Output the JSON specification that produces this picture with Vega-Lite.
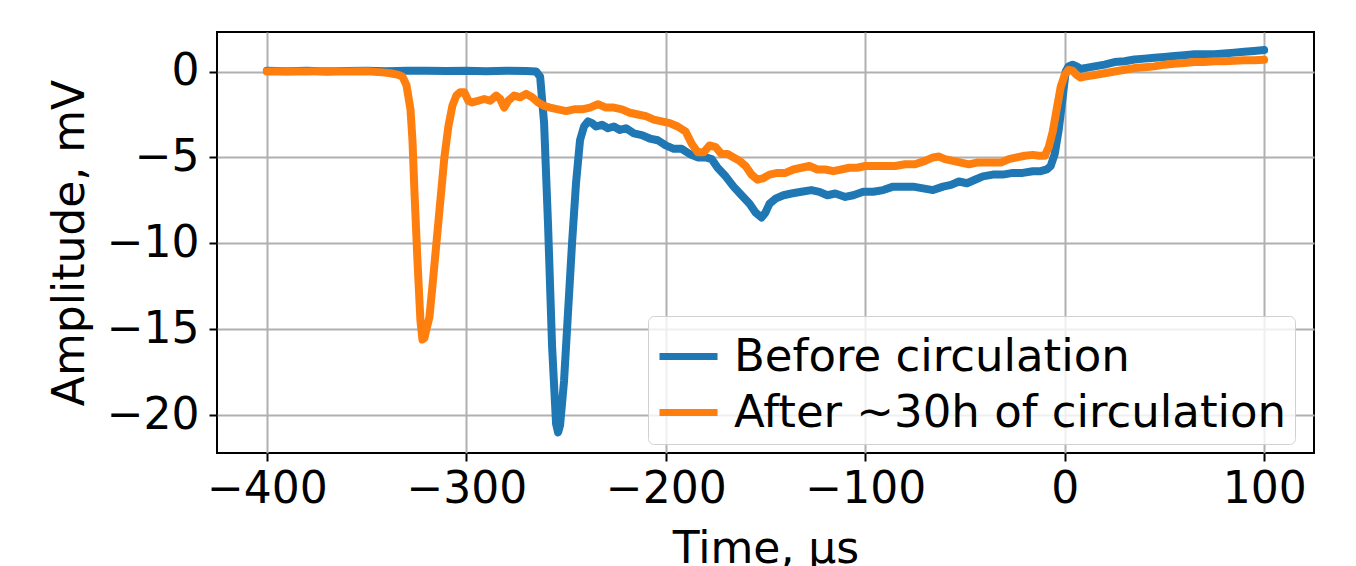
{
  "$schema": "https://vega.github.io/schema/vega-lite/v6.json",
  "autosize": {"type": "none"},
  "width": 1097,
  "height": 421,
  "padding": {"left": 217, "top": 32, "right": 42, "bottom": 113},
  "background": "white",
  "data": {"values": [
    {"s":"Before circulation","t":-400,"v":0.05},{"s":"Before circulation","t":-390,"v":0.02},{"s":"Before circulation","t":-380,"v":0.05},{"s":"Before circulation","t":-370,"v":0.0},{"s":"Before circulation","t":-360,"v":0.03},{"s":"Before circulation","t":-350,"v":0.05},{"s":"Before circulation","t":-340,"v":0.02},{"s":"Before circulation","t":-330,"v":0.04},{"s":"Before circulation","t":-320,"v":0.05},{"s":"Before circulation","t":-310,"v":0.03},{"s":"Before circulation","t":-300,"v":0.05},{"s":"Before circulation","t":-290,"v":0.02},{"s":"Before circulation","t":-280,"v":0.04},{"s":"Before circulation","t":-270,"v":0.03},{"s":"Before circulation","t":-265,"v":0.0},
    {"s":"Before circulation","t":-263,"v":-0.3},{"s":"Before circulation","t":-261,"v":-3},{"s":"Before circulation","t":-259,"v":-9},{"s":"Before circulation","t":-257,"v":-16},{"s":"Before circulation","t":-255,"v":-20.5},{"s":"Before circulation","t":-254,"v":-21.0},{"s":"Before circulation","t":-253,"v":-20.6},{"s":"Before circulation","t":-251,"v":-18},{"s":"Before circulation","t":-249,"v":-14},{"s":"Before circulation","t":-247,"v":-10},{"s":"Before circulation","t":-245,"v":-6.5},{"s":"Before circulation","t":-243,"v":-4},{"s":"Before circulation","t":-241,"v":-3.2},{"s":"Before circulation","t":-239,"v":-2.9},{"s":"Before circulation","t":-237,"v":-3.0},{"s":"Before circulation","t":-235,"v":-3.2},{"s":"Before circulation","t":-232,"v":-3.1},{"s":"Before circulation","t":-229,"v":-3.3},{"s":"Before circulation","t":-226,"v":-3.2},{"s":"Before circulation","t":-223,"v":-3.4},{"s":"Before circulation","t":-220,"v":-3.3},{"s":"Before circulation","t":-216,"v":-3.6},{"s":"Before circulation","t":-212,"v":-3.7},{"s":"Before circulation","t":-208,"v":-3.9},{"s":"Before circulation","t":-204,"v":-4.0},{"s":"Before circulation","t":-200,"v":-4.3},{"s":"Before circulation","t":-196,"v":-4.5},{"s":"Before circulation","t":-192,"v":-4.5},{"s":"Before circulation","t":-188,"v":-4.8},{"s":"Before circulation","t":-184,"v":-5.0},{"s":"Before circulation","t":-180,"v":-5.0},{"s":"Before circulation","t":-177,"v":-5.1},{"s":"Before circulation","t":-174,"v":-5.6},{"s":"Before circulation","t":-170,"v":-6.1},{"s":"Before circulation","t":-166,"v":-6.7},{"s":"Before circulation","t":-162,"v":-7.2},{"s":"Before circulation","t":-158,"v":-7.7},{"s":"Before circulation","t":-155,"v":-8.2},{"s":"Before circulation","t":-152,"v":-8.5},{"s":"Before circulation","t":-150,"v":-8.2},{"s":"Before circulation","t":-148,"v":-7.7},{"s":"Before circulation","t":-145,"v":-7.4},{"s":"Before circulation","t":-141,"v":-7.2},{"s":"Before circulation","t":-137,"v":-7.1},{"s":"Before circulation","t":-132,"v":-7.0},{"s":"Before circulation","t":-127,"v":-6.9},{"s":"Before circulation","t":-123,"v":-7.0},{"s":"Before circulation","t":-119,"v":-7.2},{"s":"Before circulation","t":-115,"v":-7.1},{"s":"Before circulation","t":-110,"v":-7.3},{"s":"Before circulation","t":-106,"v":-7.2},{"s":"Before circulation","t":-101,"v":-7.0},{"s":"Before circulation","t":-96,"v":-7.0},{"s":"Before circulation","t":-91,"v":-6.9},{"s":"Before circulation","t":-86,"v":-6.7},{"s":"Before circulation","t":-81,"v":-6.7},{"s":"Before circulation","t":-76,"v":-6.7},{"s":"Before circulation","t":-71,"v":-6.8},{"s":"Before circulation","t":-66,"v":-6.9},{"s":"Before circulation","t":-61,"v":-6.7},{"s":"Before circulation","t":-57,"v":-6.6},{"s":"Before circulation","t":-53,"v":-6.4},{"s":"Before circulation","t":-49,"v":-6.5},{"s":"Before circulation","t":-45,"v":-6.3},{"s":"Before circulation","t":-41,"v":-6.1},{"s":"Before circulation","t":-36,"v":-6.0},{"s":"Before circulation","t":-31,"v":-6.0},{"s":"Before circulation","t":-26,"v":-5.9},{"s":"Before circulation","t":-21,"v":-5.9},{"s":"Before circulation","t":-16,"v":-5.8},{"s":"Before circulation","t":-12,"v":-5.8},{"s":"Before circulation","t":-9,"v":-5.7},{"s":"Before circulation","t":-7,"v":-5.5},{"s":"Before circulation","t":-5,"v":-4.8},{"s":"Before circulation","t":-3,"v":-3.4},{"s":"Before circulation","t":-1,"v":-1.5},{"s":"Before circulation","t":0.5,"v":0.0},{"s":"Before circulation","t":2,"v":0.3},{"s":"Before circulation","t":4,"v":0.4},{"s":"Before circulation","t":6,"v":0.3},{"s":"Before circulation","t":8,"v":0.15},{"s":"Before circulation","t":10,"v":0.2},{"s":"Before circulation","t":15,"v":0.3},{"s":"Before circulation","t":20,"v":0.4},{"s":"Before circulation","t":25,"v":0.55},{"s":"Before circulation","t":30,"v":0.6},{"s":"Before circulation","t":35,"v":0.7},{"s":"Before circulation","t":40,"v":0.75},{"s":"Before circulation","t":45,"v":0.8},{"s":"Before circulation","t":50,"v":0.85},{"s":"Before circulation","t":55,"v":0.9},{"s":"Before circulation","t":60,"v":0.95},{"s":"Before circulation","t":65,"v":1.0},{"s":"Before circulation","t":70,"v":1.0},{"s":"Before circulation","t":75,"v":1.0},{"s":"Before circulation","t":80,"v":1.05},{"s":"Before circulation","t":85,"v":1.1},{"s":"Before circulation","t":90,"v":1.15},{"s":"Before circulation","t":95,"v":1.2},{"s":"Before circulation","t":100,"v":1.25},
    {"s":"After ~30h of circulation","t":-400,"v":0.0},{"s":"After ~30h of circulation","t":-390,"v":0.02},{"s":"After ~30h of circulation","t":-380,"v":0.0},{"s":"After ~30h of circulation","t":-370,"v":0.03},{"s":"After ~30h of circulation","t":-360,"v":0.0},{"s":"After ~30h of circulation","t":-350,"v":0.02},{"s":"After ~30h of circulation","t":-342,"v":-0.05},{"s":"After ~30h of circulation","t":-338,"v":-0.1},{"s":"After ~30h of circulation","t":-334,"v":-0.2},{"s":"After ~30h of circulation","t":-332,"v":-0.3},{"s":"After ~30h of circulation","t":-330,"v":-0.8},{"s":"After ~30h of circulation","t":-328,"v":-2.2},{"s":"After ~30h of circulation","t":-327,"v":-4},{"s":"After ~30h of circulation","t":-326,"v":-7},{"s":"After ~30h of circulation","t":-324.5,"v":-11},{"s":"After ~30h of circulation","t":-323,"v":-14.5},{"s":"After ~30h of circulation","t":-322,"v":-15.6},{"s":"After ~30h of circulation","t":-321,"v":-15.5},{"s":"After ~30h of circulation","t":-320,"v":-15},{"s":"After ~30h of circulation","t":-318.5,"v":-14.3},{"s":"After ~30h of circulation","t":-317,"v":-12.5},{"s":"After ~30h of circulation","t":-315,"v":-10},{"s":"After ~30h of circulation","t":-313,"v":-7.5},{"s":"After ~30h of circulation","t":-311,"v":-5},{"s":"After ~30h of circulation","t":-309,"v":-3.2},{"s":"After ~30h of circulation","t":-307,"v":-2},{"s":"After ~30h of circulation","t":-305,"v":-1.4},{"s":"After ~30h of circulation","t":-303,"v":-1.2},{"s":"After ~30h of circulation","t":-301,"v":-1.2},{"s":"After ~30h of circulation","t":-299,"v":-1.7},{"s":"After ~30h of circulation","t":-297,"v":-1.8},{"s":"After ~30h of circulation","t":-294,"v":-1.7},{"s":"After ~30h of circulation","t":-291,"v":-1.6},{"s":"After ~30h of circulation","t":-288,"v":-1.7},{"s":"After ~30h of circulation","t":-285,"v":-1.4},{"s":"After ~30h of circulation","t":-283,"v":-1.6},{"s":"After ~30h of circulation","t":-281,"v":-2.1},{"s":"After ~30h of circulation","t":-279,"v":-1.7},{"s":"After ~30h of circulation","t":-276,"v":-1.4},{"s":"After ~30h of circulation","t":-273,"v":-1.5},{"s":"After ~30h of circulation","t":-270,"v":-1.3},{"s":"After ~30h of circulation","t":-267,"v":-1.5},{"s":"After ~30h of circulation","t":-264,"v":-1.8},{"s":"After ~30h of circulation","t":-261,"v":-2.0},{"s":"After ~30h of circulation","t":-258,"v":-2.1},{"s":"After ~30h of circulation","t":-254,"v":-2.2},{"s":"After ~30h of circulation","t":-250,"v":-2.3},{"s":"After ~30h of circulation","t":-246,"v":-2.2},{"s":"After ~30h of circulation","t":-242,"v":-2.2},{"s":"After ~30h of circulation","t":-238,"v":-2.1},{"s":"After ~30h of circulation","t":-234,"v":-1.9},{"s":"After ~30h of circulation","t":-230,"v":-2.1},{"s":"After ~30h of circulation","t":-226,"v":-2.1},{"s":"After ~30h of circulation","t":-222,"v":-2.2},{"s":"After ~30h of circulation","t":-218,"v":-2.4},{"s":"After ~30h of circulation","t":-214,"v":-2.5},{"s":"After ~30h of circulation","t":-210,"v":-2.6},{"s":"After ~30h of circulation","t":-206,"v":-2.8},{"s":"After ~30h of circulation","t":-202,"v":-2.9},{"s":"After ~30h of circulation","t":-198,"v":-3.0},{"s":"After ~30h of circulation","t":-194,"v":-3.2},{"s":"After ~30h of circulation","t":-190,"v":-3.5},{"s":"After ~30h of circulation","t":-187,"v":-4.2},{"s":"After ~30h of circulation","t":-184,"v":-4.7},{"s":"After ~30h of circulation","t":-181,"v":-4.7},{"s":"After ~30h of circulation","t":-178,"v":-4.3},{"s":"After ~30h of circulation","t":-175,"v":-4.4},{"s":"After ~30h of circulation","t":-172,"v":-4.8},{"s":"After ~30h of circulation","t":-169,"v":-4.8},{"s":"After ~30h of circulation","t":-166,"v":-5.0},{"s":"After ~30h of circulation","t":-163,"v":-5.2},{"s":"After ~30h of circulation","t":-160,"v":-5.5},{"s":"After ~30h of circulation","t":-157,"v":-6.0},{"s":"After ~30h of circulation","t":-154,"v":-6.3},{"s":"After ~30h of circulation","t":-151,"v":-6.2},{"s":"After ~30h of circulation","t":-148,"v":-6.0},{"s":"After ~30h of circulation","t":-144,"v":-5.9},{"s":"After ~30h of circulation","t":-140,"v":-5.9},{"s":"After ~30h of circulation","t":-136,"v":-5.7},{"s":"After ~30h of circulation","t":-132,"v":-5.6},{"s":"After ~30h of circulation","t":-128,"v":-5.5},{"s":"After ~30h of circulation","t":-124,"v":-5.7},{"s":"After ~30h of circulation","t":-120,"v":-5.7},{"s":"After ~30h of circulation","t":-116,"v":-5.8},{"s":"After ~30h of circulation","t":-112,"v":-5.7},{"s":"After ~30h of circulation","t":-108,"v":-5.6},{"s":"After ~30h of circulation","t":-104,"v":-5.6},{"s":"After ~30h of circulation","t":-100,"v":-5.5},{"s":"After ~30h of circulation","t":-95,"v":-5.5},{"s":"After ~30h of circulation","t":-90,"v":-5.5},{"s":"After ~30h of circulation","t":-85,"v":-5.5},{"s":"After ~30h of circulation","t":-80,"v":-5.4},{"s":"After ~30h of circulation","t":-75,"v":-5.4},{"s":"After ~30h of circulation","t":-70,"v":-5.2},{"s":"After ~30h of circulation","t":-66,"v":-5.0},{"s":"After ~30h of circulation","t":-63,"v":-4.95},{"s":"After ~30h of circulation","t":-60,"v":-5.1},{"s":"After ~30h of circulation","t":-56,"v":-5.2},{"s":"After ~30h of circulation","t":-52,"v":-5.3},{"s":"After ~30h of circulation","t":-48,"v":-5.4},{"s":"After ~30h of circulation","t":-44,"v":-5.3},{"s":"After ~30h of circulation","t":-40,"v":-5.3},{"s":"After ~30h of circulation","t":-36,"v":-5.3},{"s":"After ~30h of circulation","t":-32,"v":-5.3},{"s":"After ~30h of circulation","t":-28,"v":-5.1},{"s":"After ~30h of circulation","t":-24,"v":-5.0},{"s":"After ~30h of circulation","t":-20,"v":-4.9},{"s":"After ~30h of circulation","t":-16,"v":-4.85},{"s":"After ~30h of circulation","t":-13,"v":-4.9},{"s":"After ~30h of circulation","t":-10,"v":-4.9},{"s":"After ~30h of circulation","t":-8,"v":-4.4},{"s":"After ~30h of circulation","t":-6,"v":-3.5},{"s":"After ~30h of circulation","t":-4,"v":-2.2},{"s":"After ~30h of circulation","t":-2,"v":-0.9},{"s":"After ~30h of circulation","t":0,"v":-0.2},{"s":"After ~30h of circulation","t":2,"v":0.1},{"s":"After ~30h of circulation","t":4,"v":0.05},{"s":"After ~30h of circulation","t":6,"v":-0.2},{"s":"After ~30h of circulation","t":8,"v":-0.35},{"s":"After ~30h of circulation","t":10,"v":-0.3},{"s":"After ~30h of circulation","t":15,"v":-0.2},{"s":"After ~30h of circulation","t":20,"v":-0.1},{"s":"After ~30h of circulation","t":25,"v":0.0},{"s":"After ~30h of circulation","t":30,"v":0.1},{"s":"After ~30h of circulation","t":35,"v":0.2},{"s":"After ~30h of circulation","t":40,"v":0.25},{"s":"After ~30h of circulation","t":45,"v":0.3},{"s":"After ~30h of circulation","t":50,"v":0.4},{"s":"After ~30h of circulation","t":55,"v":0.45},{"s":"After ~30h of circulation","t":60,"v":0.5},{"s":"After ~30h of circulation","t":65,"v":0.55},{"s":"After ~30h of circulation","t":70,"v":0.55},{"s":"After ~30h of circulation","t":75,"v":0.6},{"s":"After ~30h of circulation","t":80,"v":0.6},{"s":"After ~30h of circulation","t":85,"v":0.62},{"s":"After ~30h of circulation","t":90,"v":0.65},{"s":"After ~30h of circulation","t":95,"v":0.65},{"s":"After ~30h of circulation","t":100,"v":0.68}
  ]},
  "mark": {"type": "line", "strokeWidth": 8, "strokeCap": "round", "strokeJoin": "round"},
  "encoding": {
    "x": {
      "field": "t", "type": "quantitative",
      "scale": {"domain": [-425, 125], "nice": false, "zero": false},
      "axis": {"title": "Time, µs", "values": [-400, -300, -200, -100, 0, 100], "titlePadding": 16, "labelPadding": 6}
    },
    "y": {
      "field": "v", "type": "quantitative",
      "scale": {"domain": [-22.2, 2.3], "nice": false, "zero": false},
      "axis": {"title": "Amplitude, mV", "values": [-20, -15, -10, -5, 0], "titlePadding": 14, "labelPadding": 10}
    },
    "color": {
      "field": "s", "type": "nominal",
      "scale": {"domain": ["Before circulation", "After ~30h of circulation"], "range": ["#1f77b4", "#ff7f0e"]},
      "legend": {
        "title": null, "orient": "none", "legendX": 431, "legendY": 284,
        "symbolType": "stroke", "symbolSize": 3364, "symbolStrokeWidth": 7,
        "labelFont": "DejaVu Sans", "labelFontSize": 45, "labelColor": "black", "labelLimit": 1000,
        "labelOffset": 13, "padding": 8, "rowPadding": -9,
        "strokeColor": "#d0d0d0", "fillColor": "rgba(255,255,255,0.8)", "cornerRadius": 6
      }
    },
    "order": {"field": "t", "type": "quantitative"}
  },
  "config": {
    "view": {"stroke": "black", "strokeWidth": 2},
    "axis": {
      "domain": false,
      "tickColor": "black",
      "tickWidth": 2,
      "tickSize": 8,
      "gridColor": "#b0b0b0",
      "gridWidth": 2,
      "labelFont": "DejaVu Sans",
      "labelFontSize": 44,
      "labelColor": "black",
      "titleFont": "DejaVu Sans",
      "titleFontSize": 44,
      "titleFontWeight": "normal",
      "titleColor": "black"
    }
  }
}
